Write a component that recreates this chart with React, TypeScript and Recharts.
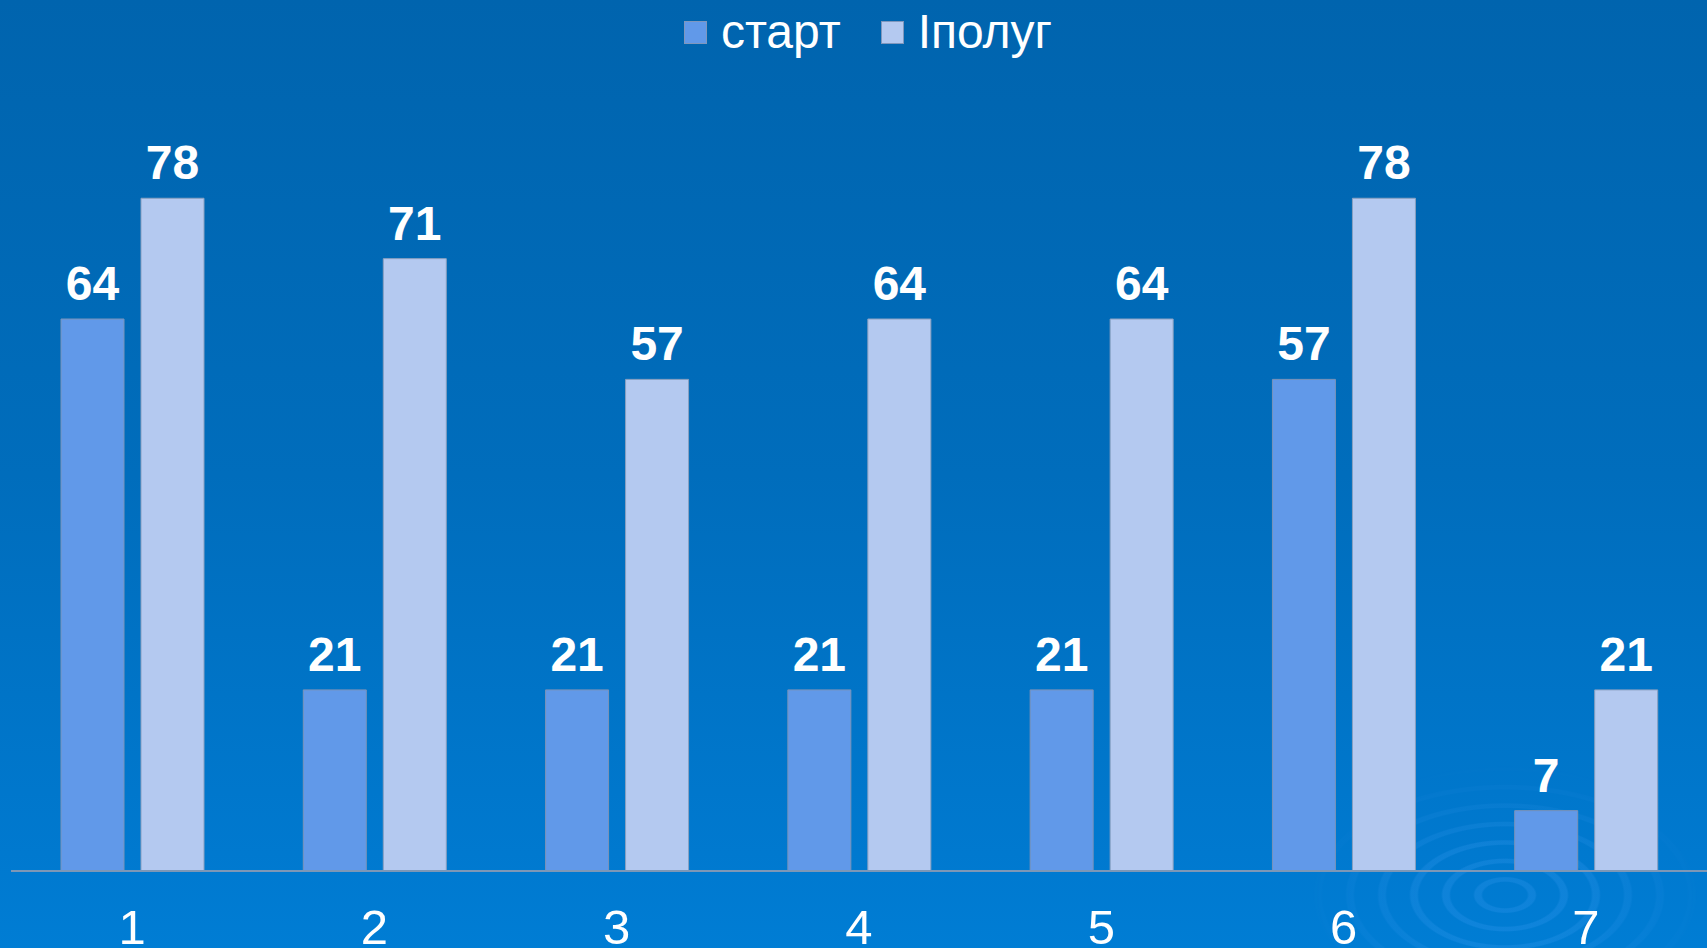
import React from "react";
import { BarChart, Bar, XAxis, YAxis, Legend, LabelList } from "recharts";

const categories = ["1", "2", "3", "4", "5", "6", "7"];
const startValues = [64, 21, 21, 21, 21, 57, 7];
const halfYearValues = [78, 71, 57, 64, 64, 78, 21];

const seriesNames = { start: "старт", half: "Іполуг" };
const colors = { start: "#6199E9", half: "#B4C9F0" };

const data = categories.map((c, i) => ({
  name: c,
  start: startValues[i],
  half: halfYearValues[i],
}));

const FONT = "'Liberation Sans', Arial, sans-serif";

function LegendContent() {
  const items = [
    { key: "start", label: seriesNames.start, color: colors.start },
    { key: "half", label: seriesNames.half, color: colors.half },
  ];
  return (
    <div style={{ display: "flex", justifyContent: "center", alignItems: "center", gap: 40, height: 60, paddingLeft: 18 }}>
      {items.map((it) => (
        <div key={it.key} style={{ display: "flex", alignItems: "center" }}>
          <span
            style={{
              width: 23,
              height: 23,
              background: it.color,
              border: "1px solid #7f97bd",
              boxSizing: "border-box",
              marginRight: 14,
            }}
          />
          <span style={{ color: "#ffffff", fontSize: 48, fontFamily: FONT, lineHeight: "52px" }}>{it.label}</span>
        </div>
      ))}
    </div>
  );
}

function Tick(props: any) {
  const { x, y, payload } = props;
  return (
    <text x={x} y={y + 65} textAnchor="middle" fill="#ffffff" fontSize={49} fontFamily={FONT}>
      {payload.value}
    </text>
  );
}

const ripples =
  "repeating-radial-gradient(ellipse 260px 150px at 1505px 895px, rgba(255,255,255,0) 0px, rgba(255,255,255,0) 22px, rgba(80,170,255,0.18) 24px, rgba(80,170,255,0.18) 30px, rgba(255,255,255,0) 32px)";

export default function App() {
  return (
    <div
      style={{
        position: "fixed",
        left: 0,
        top: 0,
        width: 1707,
        height: 948,
        overflow: "hidden",
        background: "linear-gradient(180deg, #0064AE 0%, #006DBC 50%, #0079CF 90%, #007DD4 100%)",
      }}
    >
      <div
        style={{
          position: "absolute",
          left: 1300,
          top: 740,
          width: 407,
          height: 208,
          background: ripples,
          backgroundPosition: "-1300px -740px",
          backgroundSize: "1707px 948px",
          WebkitMaskImage: "radial-gradient(ellipse 200px 130px at 205px 155px, #000 40%, transparent 100%)",
        }}
      />
      <div style={{ position: "absolute", left: 0, top: 0 }}>
        <BarChart
          width={1707}
          height={948}
          data={data}
          margin={{ top: 121, right: 0, left: 11, bottom: 0 }}
          barCategoryGap={50}
          barGap={17}
        >
          <Legend verticalAlign="top" height={60} content={<LegendContent />} wrapperStyle={{ top: 2 }} />
          <XAxis
            dataKey="name"
            axisLine={{ stroke: "#7d97b6", strokeWidth: 2 }}
            tickLine={false}
            height={77}
            tick={<Tick />}
            interval={0}
          />
          <YAxis hide domain={[0, 80]} />
          <Bar dataKey="start" name={seriesNames.start} fill={colors.start} stroke="#7b93b8" strokeWidth={1} isAnimationActive={false}>
            <LabelList dataKey="start" position="top" offset={19} fill="#ffffff" fontSize={48} fontWeight="bold" fontFamily={FONT} />
          </Bar>
          <Bar dataKey="half" name={seriesNames.half} fill={colors.half} stroke="#8aa0c0" strokeWidth={1} isAnimationActive={false}>
            <LabelList dataKey="half" position="top" offset={19} fill="#ffffff" fontSize={48} fontWeight="bold" fontFamily={FONT} />
          </Bar>
        </BarChart>
      </div>
    </div>
  );
}
